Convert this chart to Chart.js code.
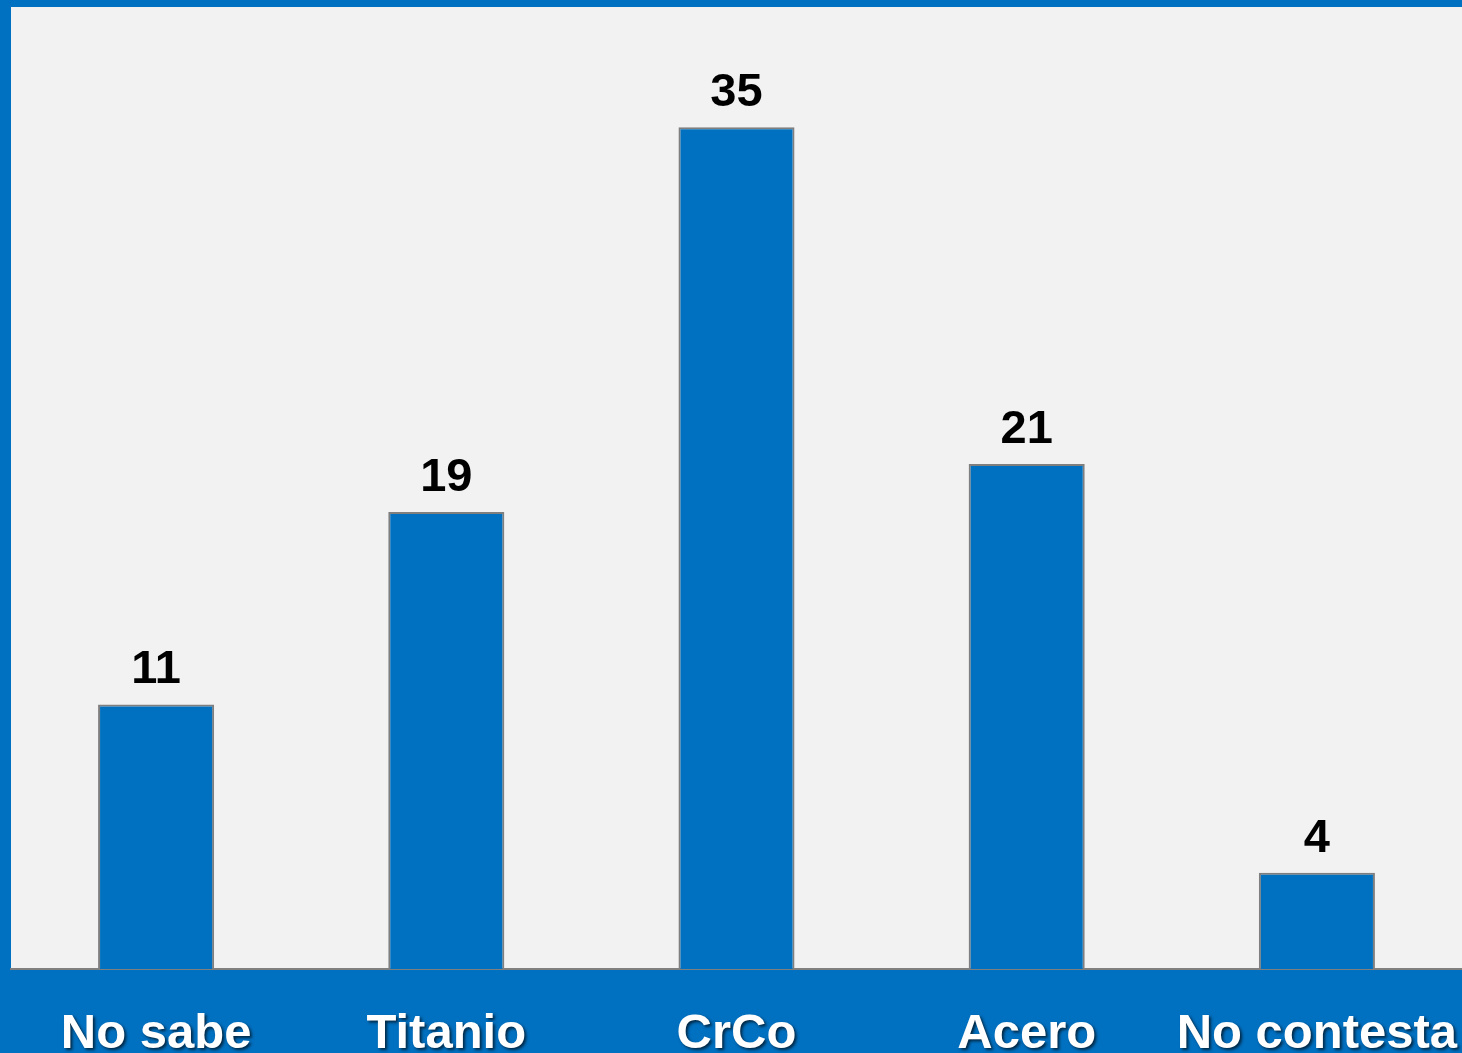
<!DOCTYPE html>
<html>
<head>
<meta charset="utf-8">
<script src="https://cdn.jsdelivr.net/npm/chart.js@4"></script>
<style>
html,body{margin:0;padding:0;background:#0070c0;}
canvas{display:block;}
</style>
</head>
<body>
<canvas id="c" width="1462" height="1053"></canvas>
<script>
const categories = ["No sabe", "Titanio", "CrCo", "Acero", "No contesta"];
const values = [11, 19, 35, 21, 4];
const yMax = 40;

const bgPlugin = {
  id: 'bg',
  beforeDraw(chart) {
    const {ctx, chartArea: a} = chart;
    ctx.save();
    ctx.fillStyle = '#0070c0';
    ctx.fillRect(0, 0, chart.width, chart.height);
    ctx.fillStyle = '#f2f2f2';
    ctx.fillRect(a.left, a.top, a.right - a.left, a.bottom - a.top);
    ctx.restore();
  }
};

const shadowPlugin = {
  id: 'shadowTicks',
  afterUpdate(chart) {
    const s = chart.scales.x;
    if (s._patched) return;
    const orig = s.drawLabels.bind(s);
    s.drawLabels = function(area) {
      const ctx = chart.ctx;
      ctx.save();
      ctx.shadowColor = 'rgba(0,0,0,0.65)';
      ctx.shadowOffsetX = 2;
      ctx.shadowOffsetY = 2;
      ctx.shadowBlur = 3;
      orig(area);
      ctx.restore();
    };
    s._patched = true;
  }
};

const valueLabels = {
  id: 'valueLabels',
  afterDatasetsDraw(chart) {
    const ctx = chart.ctx;
    const meta = chart.getDatasetMeta(0);
    ctx.save();
    ctx.font = 'bold 47px "Liberation Sans", Arial, sans-serif';
    ctx.fillStyle = '#000000';
    ctx.textAlign = 'center';
    ctx.textBaseline = 'alphabetic';
    meta.data.forEach((bar, i) => {
      ctx.fillText(String(chart.data.datasets[0].data[i]), bar.x, bar.y - 21);
    });
    ctx.restore();
  }
};

new Chart(document.getElementById('c'), {
  type: 'bar',
  data: {
    labels: categories,
    datasets: [{
      data: values,
      backgroundColor: '#0070c0',
      borderColor: '#7f7f7f',
      borderWidth: 2,
      borderSkipped: 'bottom',
      barPercentage: 0.4,
      categoryPercentage: 1.0
    }]
  },
  options: {
    responsive: false,
    animation: false,
    layout: { padding: { left: 11, top: 7, right: 0, bottom: 0 } },
    plugins: { legend: { display: false }, tooltip: { enabled: false } },
    scales: {
      x: {
        afterFit(scale) { scale.height = 84; scale.paddingLeft = 0; scale.paddingRight = 0; },
        grid: { display: false, drawTicks: false },
        border: { display: true, color: '#808080', width: 2 },
        ticks: {
          color: '#ffffff',
          padding: 36,
          maxRotation: 0,
          autoSkip: false,
          font: { family: '"Liberation Sans", Arial, sans-serif', size: 49, weight: 'bold' }
        }
      },
      y: {
        display: false,
        min: 0,
        max: yMax
      }
    }
  },
  plugins: [bgPlugin, shadowPlugin, valueLabels]
});
</script>
</body>
</html>
